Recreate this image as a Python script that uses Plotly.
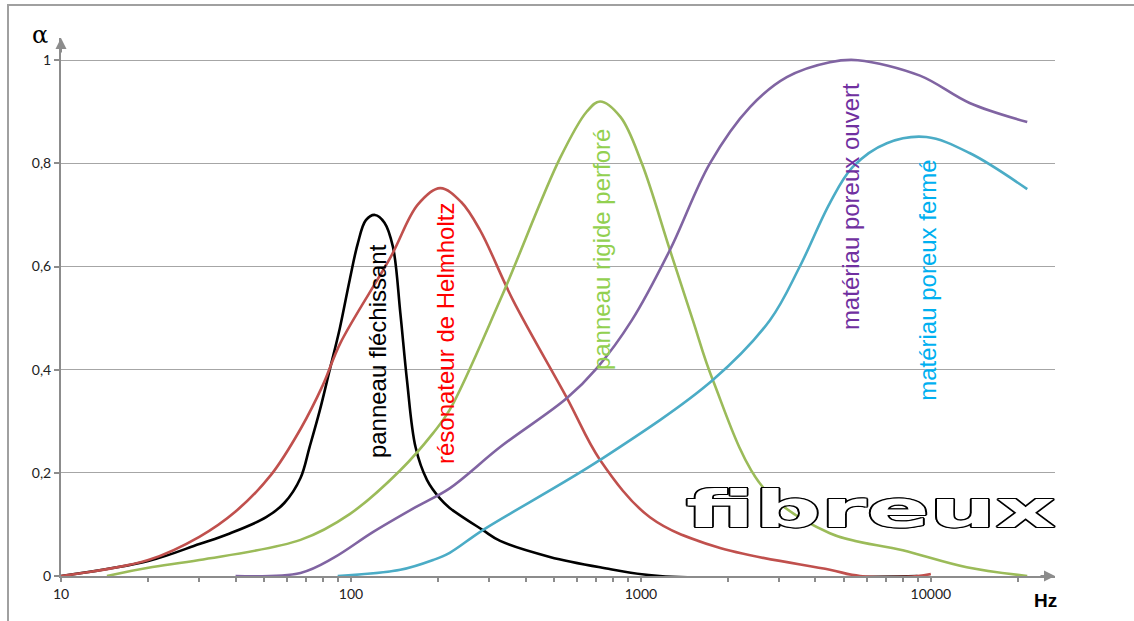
import plotly.graph_objects as go
import math

# ---------------- data (frequency in Hz, absorption coefficient alpha) ----------------
black_f = [10, 20, 30, 38, 51, 59, 67, 72, 78, 84.5, 91.5, 99, 105.6, 112.6, 121, 130.5, 139.6, 148, 156, 167, 183, 203, 219, 285, 327, 485, 723, 1160, 9000]
black_a = [0, 0.029, 0.062, 0.082, 0.114, 0.142, 0.19, 0.25, 0.32, 0.40, 0.48, 0.574, 0.645, 0.69, 0.70, 0.685, 0.638, 0.51, 0.38, 0.25, 0.186, 0.15, 0.132, 0.089, 0.068, 0.037, 0.017, 0, 0]

red_f = [10, 20, 30, 40, 53, 67, 80, 92, 137, 170, 203, 240, 279, 362, 556, 723, 1074, 1828, 4484, 5700, 9000, 10000]
red_a = [0, 0.031, 0.076, 0.125, 0.196, 0.285, 0.37, 0.452, 0.618, 0.72, 0.752, 0.725, 0.67, 0.535, 0.345, 0.225, 0.114, 0.056, 0.012, 0, 0, 0.004]

green_f = [14.4, 20, 30, 67, 99, 148, 192, 219, 327, 526, 650, 723, 850, 1007, 1259, 1510, 1770, 2636, 4484, 8000, 13300, 21500]
green_a = [0, 0.016, 0.031, 0.07, 0.12, 0.205, 0.277, 0.322, 0.535, 0.81, 0.9, 0.92, 0.89, 0.8, 0.632, 0.496, 0.38, 0.172, 0.083, 0.05, 0.017, 0]

purple_f = [40, 67, 87, 119, 169, 219, 327, 556, 705, 931, 1259, 1730, 2378, 3185, 4484, 5600, 9170, 13600, 21500]
purple_a = [0, 0.006, 0.035, 0.085, 0.135, 0.17, 0.25, 0.345, 0.403, 0.496, 0.632, 0.8, 0.909, 0.967, 0.996, 1.0, 0.97, 0.917, 0.88]

cyan_f = [90, 148, 192, 219, 285, 723, 1770, 2786, 3532, 4484, 5380, 7050, 9650, 13600, 21500]
cyan_a = [0, 0.012, 0.031, 0.045, 0.089, 0.225, 0.38, 0.496, 0.6, 0.723, 0.793, 0.839, 0.851, 0.82, 0.75]

series = [
    ("panneau fléchissant", black_f, black_a, "#000000"),
    ("résonateur de Helmholtz", red_f, red_a, "#c0504d"),
    ("panneau rigide perforé", green_f, green_a, "#9bbb59"),
    ("matériau poreux ouvert", purple_f, purple_a, "#8064a2"),
    ("matériau poreux fermé", cyan_f, cyan_a, "#4bacc6"),
]

# curve labels: (text, freq, alpha, colour)
labels = [
    ("panneau fléchissant", 123, 0.436, "#000000"),
    ("résonateur de Helmholtz", 211, 0.471, "#ff0000"),
    ("panneau rigide perforé", 735, 0.634, "#92d050"),
    ("matériau poreux ouvert", 5260, 0.717, "#7030a0"),
    ("matériau poreux fermé", 9770, 0.574, "#00b0f0"),
]

x_major = [10, 100, 1000, 10000]
x_ticks = [m * d for d in [10, 100, 1000] for m in range(1, 10)] + [10000, 20000]
x_ticktext = [str(v) if v in x_major else "" for v in x_ticks]
y_ticks = [0, 0.2, 0.4, 0.6, 0.8, 1]
y_ticktext = ["0", "0,2", "0,4", "0,6", "0,8", "1"]

AXIS = "#8c8c8c"
GRID = "#a6a6a6"

fig = go.Figure()
for name, f, a, c in series:
    fig.add_trace(go.Scatter(x=f, y=a, mode="lines", name=name,
                             line=dict(color=c, width=2.6, shape="spline", smoothing=1.0),
                             showlegend=False, hoverinfo="skip"))

annotations = []
for text, f, a, c in labels:
    annotations.append(dict(x=math.log10(f), y=a, xref="x", yref="y", text=text,
                            showarrow=False, textangle=-90,
                            font=dict(family="Liberation Sans, Arial", size=24, color=c)))

annotations.append(dict(x=math.log10(6200), y=0.13, xref="x", yref="y",
                        text="fibreux", showarrow=False,
                        font=dict(family="DejaVu Sans", size=52, color="white", weight="bold",
                                  shadow="1.1px 0 0 #000, -1.1px 0 0 #000, 0 1.1px 0 #000, 0 -1.1px 0 #000, 0.8px 0.8px 0 #000, -0.8px -0.8px 0 #000, 0.8px -0.8px 0 #000, -0.8px 0.8px 0 #000")))

# axis arrows
annotations.append(dict(x=1, y=0, xref="paper", yref="paper", ax=-16, ay=0, axref="pixel", ayref="pixel",
                        text="", showarrow=True, arrowhead=2, arrowsize=1.1, arrowwidth=2, arrowcolor=AXIS))
annotations.append(dict(x=0, y=1, xref="paper", yref="paper", ax=0, ay=16,
                        text="", showarrow=True, arrowhead=2, arrowsize=1.1, arrowwidth=2, arrowcolor=AXIS))

# axis titles
annotations.append(dict(x=(1045 - 61) / 994, y=-0.045, xref="paper", yref="paper", text="<b>Hz</b>",
                        showarrow=False, xanchor="center", yanchor="middle",
                        font=dict(family="Liberation Sans, Arial", size=19, color="#000")))
annotations.append(dict(x=-0.021, y=1.005, xref="paper", yref="paper", text="α", showarrow=False,
                        xanchor="center", yanchor="middle",
                        font=dict(family="DejaVu Serif", size=24, color="#000")))

fig.update_layout(
    width=1134, height=621,
    margin=dict(l=61, r=79, t=38, b=45),
    paper_bgcolor="white", plot_bgcolor="white",
    annotations=annotations,
    shapes=[dict(type="rect", xref="paper", yref="paper",
                 x0=(8 - 61) / 994, x1=1.3, y0=-0.3, y1=(576 - 5) / 538,
                 line=dict(color="#a0a0a0", width=2), layer="below")],
)

fig.update_xaxes(type="log", range=[1, math.log10(26800)],
                 tickvals=x_ticks, ticktext=x_ticktext,
                 ticks="outside", ticklen=4, tickcolor=AXIS, tickwidth=1.5,
                 showline=True, linecolor=AXIS, linewidth=2,
                 showgrid=False, zeroline=False,
                 tickfont=dict(family="Lato, Liberation Sans", size=14, color="#222"))
fig.update_yaxes(range=[0, 1.043], tickvals=y_ticks, ticktext=y_ticktext,
                 ticks="outside", ticklen=5, tickcolor=AXIS, tickwidth=1.5,
                 showline=True, linecolor=AXIS, linewidth=2,
                 showgrid=True, gridcolor=GRID, gridwidth=1, zeroline=False,
                 tickfont=dict(family="Lato, Liberation Sans", size=14, color="#222"))

post = """
document.body.style.margin = '0';
function stretchFibreux() {
  var gd = document.getElementById('{plot_id}');
  if (!gd) return;
  gd.querySelectorAll('text.annotation-text').forEach(function (t) {
    if (t.textContent === 'fibreux') {
      t.setAttribute('textLength', '370');
      t.setAttribute('lengthAdjust', 'spacingAndGlyphs');
    }
  });
}
stretchFibreux();
setTimeout(stretchFibreux, 50);
setTimeout(stretchFibreux, 400);
"""

fig.write_html("out.html", post_script=post, config={"displayModeBar": False})
